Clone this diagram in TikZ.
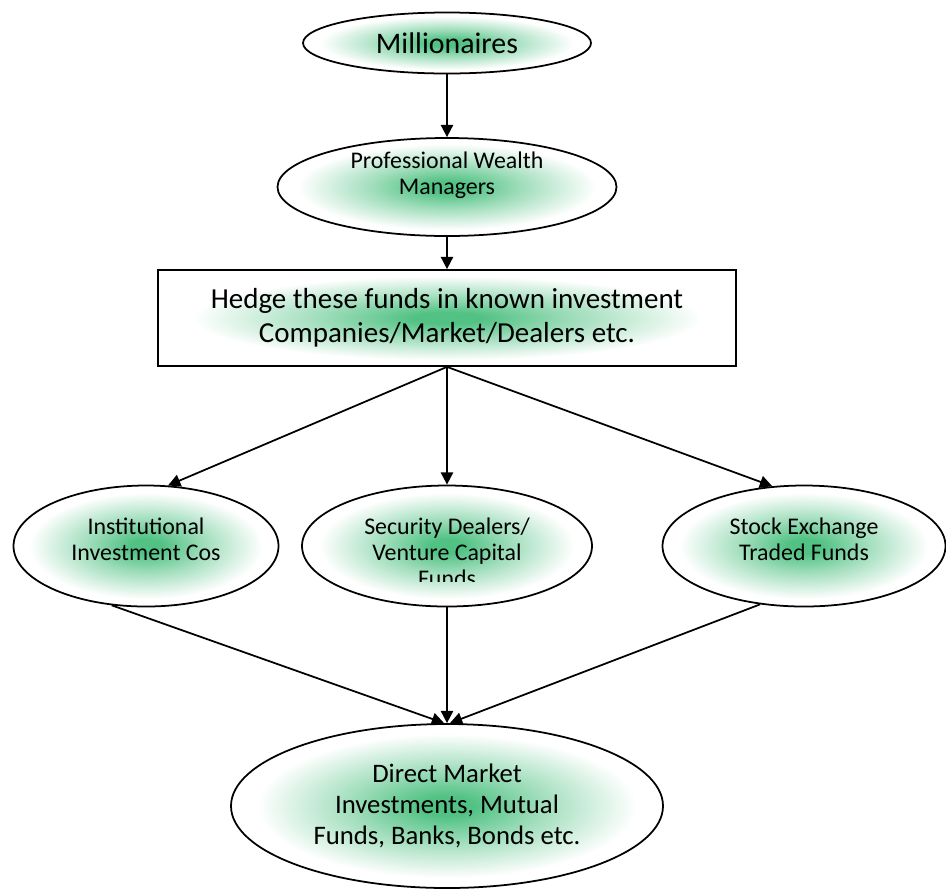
\documentclass[tikz,border=0pt]{standalone}
\usepackage{fontspec}
\setmainfont{Carlito}
\usetikzlibrary{arrows.meta,shapes.geometric}
\definecolor{glow}{RGB}{82,194,132}
\pgfdeclareradialshading{glowfill}{\pgfpoint{0bp}{0bp}}{color(0bp)=(glow); color(3bp)=(glow); color(11bp)=(glow!55!white); color(22bp)=(white); color(50bp)=(white)}

\begin{document}
\begin{tikzpicture}[>={Triangle[length=7pt,width=7pt]},line width=1pt,
 oval/.style={draw,ellipse,shading=glowfill,inner sep=0pt},
 box/.style={draw,rectangle,shading=glowfill,inner sep=0pt,align=center},
 txt/.style={align=center,inner sep=0pt,font=\fontsize{13.6}{14.7}\selectfont}]
\useasboundingbox (0,0) rectangle (18.92,-17.8);
% top chain
\node[oval,minimum width=5.76cm,minimum height=1.22cm,font=\fontsize{17}{20}\selectfont] (mill) at (8.94,-0.86) {Millionaires};
\node[oval,minimum width=6.78cm,minimum height=1.96cm] (pwm) at (8.94,-3.74) {};
\node[txt] (pwmtext) at (8.94,-3.50) {Professional Wealth\\Managers};
\node[box,minimum width=11.56cm,minimum height=1.92cm,font=\fontsize{16.5}{19.3}\selectfont] (hedge) at (8.94,-6.36) {Hedge these funds in known investment\\Companies/Market/Dealers etc.};
% middle row
\node[oval,minimum width=5.3cm,minimum height=2.42cm] (inst) at (2.92,-10.92) {};
\node[txt] (insttext) at (2.92,-10.78) {Institutional\\Investment Cos};
\node[oval,minimum width=5.8cm,minimum height=2.42cm] (dealers) at (8.94,-10.92) {};
\begin{scope}
\clip (5.9,-9.9) rectangle (12,-11.62);
\node[txt] (dealerstext) at (8.94,-11.04) {Security Dealers/\\Venture Capital\\Funds};
\end{scope}
\node[oval,minimum width=5.66cm,minimum height=2.42cm] (stock) at (16.08,-10.92) {};
\node[txt] (stocktext) at (16.08,-10.78) {Stock Exchange\\Traded Funds};
% bottom
\node[oval,minimum width=8.64cm,minimum height=3.28cm,align=center,font=\fontsize{15.2}{17.6}\selectfont] (direct) at (8.94,-16.12) {Direct Market\\Investments, Mutual\\Funds, Banks, Bonds etc.};
\draw[->] (mill) -- (pwm);
\draw[->] (pwm) -- (hedge);
\draw[->] (hedge.south) -- (inst.70);
\draw[->] (hedge) -- (dealers);
\draw[->] (hedge.south) -- (stock.118);
\draw[->] (inst.240) -- (direct.92);
\draw[->] (dealers) -- (direct);
\draw[->] (stock.233) -- (direct.88);
\end{tikzpicture}
\end{document}
